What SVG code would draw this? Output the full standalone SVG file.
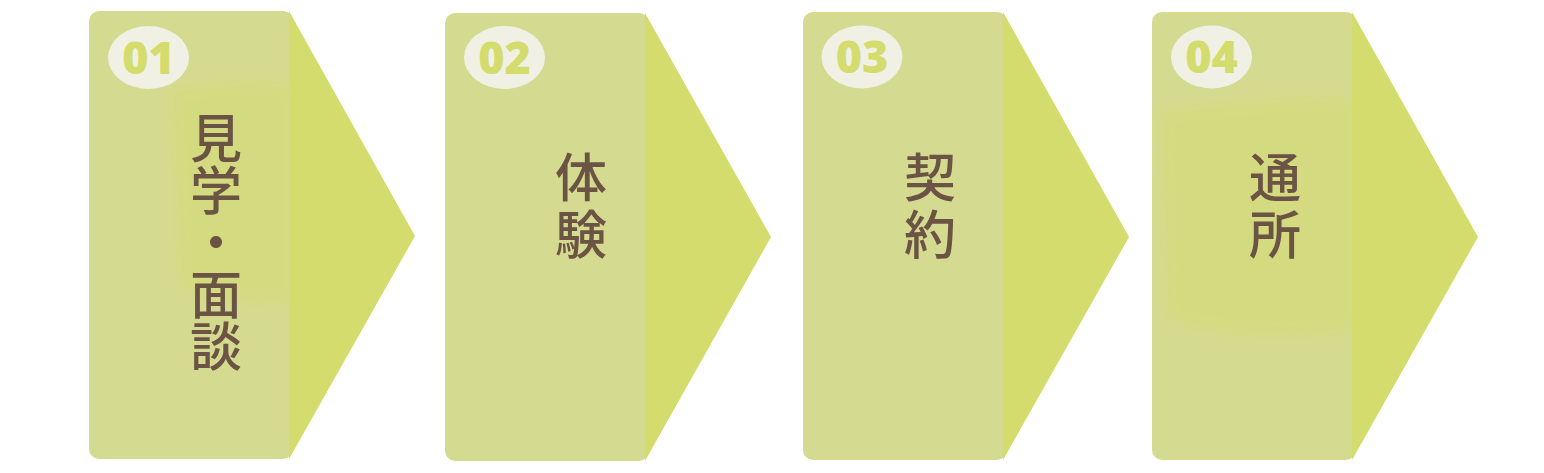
<svg xmlns="http://www.w3.org/2000/svg" width="1544" height="473" viewBox="0 0 1544 473">
<defs>
<filter id="soft" x="-20%" y="-20%" width="140%" height="140%"><feGaussianBlur stdDeviation="6"/></filter>
<clipPath id="c1"><rect x="89" y="11" width="200" height="448"/></clipPath>
<clipPath id="c4"><rect x="1152" y="12" width="200" height="448"/></clipPath>
</defs>
<style>
.box{fill:#d5da91}
.tip{fill:#d4dc6e}
.tex{fill:#d3db6f;opacity:0.5;filter:url(#soft)}
.badge{fill:#f0f1e4}
.num{font-family:"Open Sans","Lato",sans-serif;font-weight:800;font-size:45px;fill:#d4dc6e;text-anchor:middle}
.lbl{font-family:"Noto Sans CJK JP","Noto Sans",sans-serif;font-weight:500;font-size:52px;fill:#6b5444;writing-mode:vertical-rl;text-anchor:start}
</style>
<rect width="1544" height="473" fill="#ffffff"/>
<g id="step1">
<rect class="box" x="89" y="11" width="204" height="448" rx="10"/>
<polygon class="tip" points="289,11 415,236 289,459"/>
<g clip-path="url(#c1)"><path class="tex" d="M170,90 Q230,78 295,85 L295,300 Q240,310 180,290 Z"/></g>
<ellipse class="badge" cx="148.5" cy="57.5" rx="40.5" ry="31.5"/>
<text class="num" x="148.5" y="73.5">01</text>
<text class="lbl" x="216" y="112">見学・面談</text>
</g>
<g id="step2">
<rect class="box" x="445" y="13" width="204" height="448" rx="10"/>
<polygon class="tip" points="645,13 771,237 645,461"/>
<ellipse class="badge" cx="504.5" cy="57.5" rx="40.5" ry="31.5"/>
<text class="num" x="504.5" y="73.5">02</text>
<text class="lbl" x="581" y="151" letter-spacing="5">体験</text>
</g>
<g id="step3">
<rect class="box" x="803" y="12" width="204" height="448" rx="10"/>
<polygon class="tip" points="1003,12 1129,237 1003,460"/>
<ellipse class="badge" cx="862" cy="57" rx="40.5" ry="31.5"/>
<text class="num" x="862" y="73">03</text>
<text class="lbl" x="930" y="151" letter-spacing="5">契約</text>
</g>
<g id="step4">
<rect class="box" x="1152" y="12" width="204" height="448" rx="10"/>
<polygon class="tip" points="1352,12 1478,237 1352,460"/>
<g clip-path="url(#c4)"><path class="tex" d="M1160,112 Q1260,95 1360,100 L1360,330 Q1260,345 1165,320 Z"/></g>
<ellipse class="badge" cx="1211.5" cy="57" rx="40.5" ry="31.5"/>
<text class="num" x="1211.5" y="73">04</text>
<text class="lbl" x="1275" y="151" letter-spacing="5">通所</text>
</g>
<g id="connectors"/>
</svg>
